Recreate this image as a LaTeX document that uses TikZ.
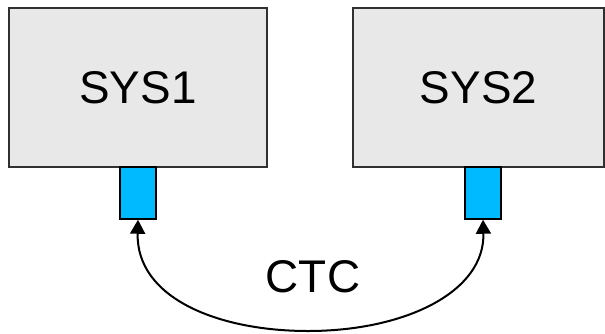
\documentclass[tikz,border=0pt]{standalone}
\usepackage{fontspec}
\setmainfont{Liberation Sans}
\usetikzlibrary{arrows.meta}
\definecolor{boxfill}{HTML}{E8E8E8}
\definecolor{boxline}{HTML}{303030}
\definecolor{portfill}{HTML}{00BAFF}
\tikzset{tiphead/.tip={Triangle[length=14bp,width=15bp]}}
\begin{document}
\begin{tikzpicture}[x=1bp,y=-1bp,
  sysbox/.style={draw=boxline,fill=boxfill,line width=1.5bp,inner sep=0pt,
    font=\fontsize{46}{50}\selectfont},
  port/.style={draw=black,fill=portfill,line width=1.5bp,inner sep=0pt,
    minimum width=36bp,minimum height=52bp},
  link/.style={line width=2bp,tiphead-tiphead}]
\useasboundingbox (0,0) rectangle (605,333);
\node[sysbox,minimum width=258bp,minimum height=159bp] (sys1) at (138,87.5) {SYS1};
\node[sysbox,minimum width=251bp,minimum height=159bp] (sys2) at (478.5,87.5) {SYS2};
\node[port] (p1) at (138,193) {};
\node[port] (p2) at (483,193) {};
\node[font=\fontsize{46}{50}\selectfont,anchor=base] (ctc) at (313,292) {CTC};
\coordinate (low) at (308,331);
\draw[link] (p1.south) .. controls (136,298) and (218,331) .. (low)
  .. controls (405,331) and (485,292) .. (p2.south);
\end{tikzpicture}
\end{document}
